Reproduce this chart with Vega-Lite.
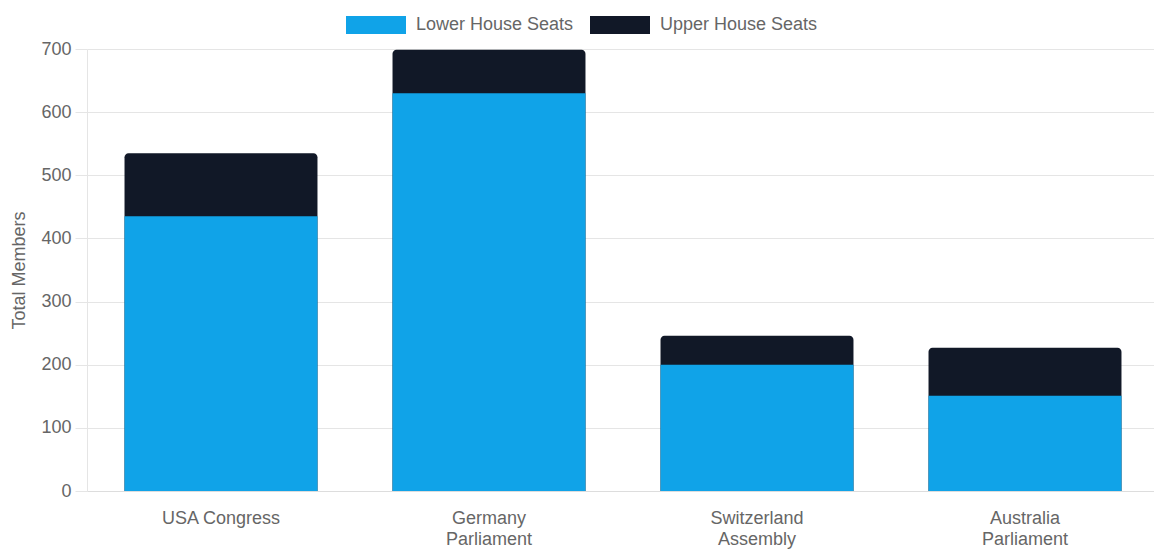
{
  "$schema": "https://vega.github.io/schema/vega-lite/v6.json",
  "width": 1072,
  "height": 442,
  "autosize": "none",
  "padding": {"left": 87, "top": 49, "right": 0, "bottom": 60},
  "config": {
    "font": "Liberation Sans",
    "view": {"stroke": null},
    "legend": {"padding": 0}
  },
  "data": {
    "values": [
      {"parliament": "USA Congress", "house": "Lower House Seats", "seats": 435},
      {"parliament": "USA Congress", "house": "Upper House Seats", "seats": 100},
      {"parliament": "Germany Parliament", "house": "Lower House Seats", "seats": 630},
      {"parliament": "Germany Parliament", "house": "Upper House Seats", "seats": 69},
      {"parliament": "Switzerland Assembly", "house": "Lower House Seats", "seats": 200},
      {"parliament": "Switzerland Assembly", "house": "Upper House Seats", "seats": 46},
      {"parliament": "Australia Parliament", "house": "Lower House Seats", "seats": 151},
      {"parliament": "Australia Parliament", "house": "Upper House Seats", "seats": 76}
    ]
  },
  "encoding": {
    "x": {
      "field": "parliament",
      "type": "nominal",
      "sort": null,
      "scale": {"paddingInner": 0.28, "paddingOuter": 0.14},
      "axis": {
        "title": null,
        "labelAngle": 0,
        "labelFontSize": 18,
        "labelColor": "#666666",
        "labelPadding": 18,
        "labelLineHeight": 21,
        "labelExpr": "datum.value == 'USA Congress' ? datum.value : split(datum.value, ' ')",
        "ticks": false,
        "domainColor": "#dddddd",
        "grid": false
      }
    }
  },
  "layer": [
    {
      "mark": {"type": "bar", "cornerRadiusTopLeft": 4, "cornerRadiusTopRight": 4},
      "encoding": {
        "y": {
          "aggregate": "sum",
          "field": "seats",
          "type": "quantitative",
          "scale": {"domain": [0, 700], "nice": false},
          "axis": {
            "title": "Total Members",
            "titleFontSize": 18,
            "titleFontWeight": "normal",
            "titleColor": "#666666",
            "titlePadding": 12,
            "labelFontSize": 18,
            "labelColor": "#666666",
            "labelPadding": 4,
            "values": [0, 100, 200, 300, 400, 500, 600, 700],
            "tickSize": 12,
            "tickColor": "#e5e5e5",
            "gridColor": "#e5e5e5",
            "domainColor": "#e5e5e5"
          }
        },
        "color": {
          "datum": "Upper House Seats",
          "type": "nominal",
          "title": null,
          "scale": {
            "domain": ["Lower House Seats", "Upper House Seats"],
            "range": ["#10a3e8", "#111827"]
          },
          "legend": {
            "title": null,
            "orient": "none",
            "direction": "horizontal",
            "legendX": 274,
            "legendY": -39,
            "symbolType": "M-2,-0.6H2V0.6H-2Z",
            "symbolSize": 900,
            "symbolStrokeWidth": 0,
            "symbolOpacity": 1,
            "labelFontSize": 18,
            "labelColor": "#666666",
            "labelOffset": 25,
            "columnPadding": 16
          }
        }
      }
    },
    {
      "transform": [{"filter": "datum.house == 'Lower House Seats'"}],
      "mark": {"type": "bar"},
      "encoding": {
        "y": {"field": "seats", "type": "quantitative", "stack": null},
        "color": {"field": "house", "type": "nominal", "title": null}
      }
    }
  ]
}
